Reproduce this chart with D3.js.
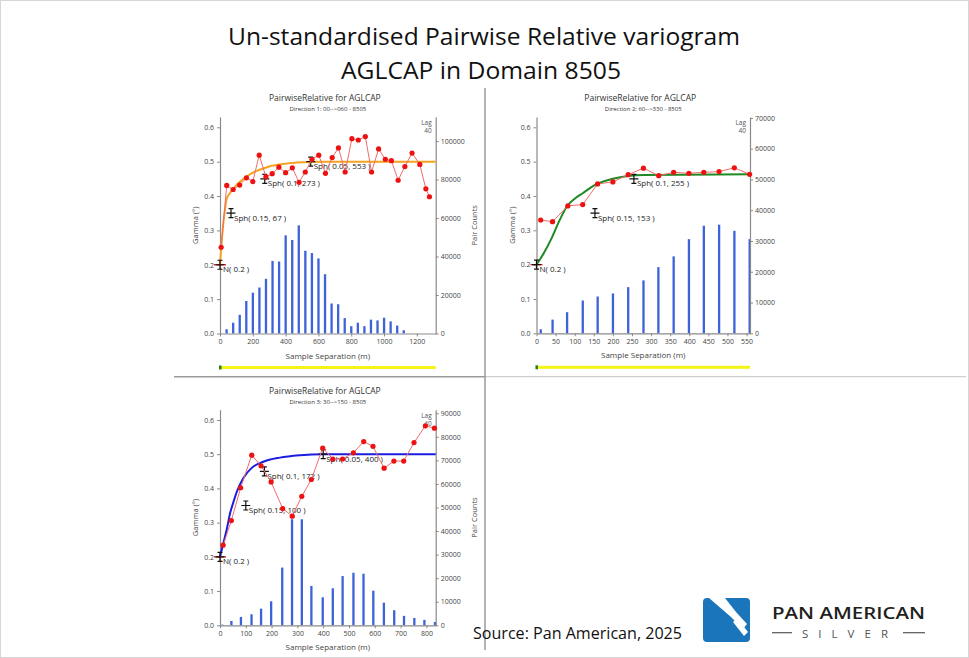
<!DOCTYPE html>
<html>
<head>
<meta charset="utf-8">
<script src="https://cdn.jsdelivr.net/npm/d3@7"></script>
<style>
body{margin:0;background:#fff;}
svg{display:block;}
</style>
</head>
<body>
<div id="chart"></div>
<script>
// ---- values ----
const gammaTicks=[0,0.1,0.2,0.3,0.4,0.5,0.6];

// Direction 1
const lag1=[7,41,80,120,161,200,239,280,318,359,400,441,482,520,561,602,643,684,722,763,804,843,886,924,967,1008,1045,1086,1127,1171,1218,1255,1277];
const gamma1=[0.251,0.431,0.419,0.432,0.453,0.442,0.519,0.456,0.465,0.484,0.468,0.482,0.440,0.470,0.507,0.519,0.466,0.512,0.540,0.470,0.567,0.563,0.573,0.470,0.537,0.507,0.503,0.446,0.486,0.525,0.492,0.421,0.398];
const barLag1=[40,80,120,160,200,240,280,320,360,400,440,480,520,560,600,640,680,720,760,800,840,880,920,960,1000,1040,1080,1120];
const counts1=[2200,5600,9700,16900,21200,23900,28400,37700,37400,51000,48600,56200,43000,41800,39000,30800,15600,15200,8000,3800,5600,3800,7200,6800,8200,6300,4100,1700];
const modelX1=[0,10,20,30,40,60,80,100,150,200,250,300,400,500,600,1315];
const modelY1=[0.2,0.265,0.32,0.36,0.39,0.408,0.42,0.432,0.452,0.468,0.478,0.486,0.494,0.498,0.5,0.5];
const structRange1=[0,67,273,553];
const structGamma1=[0.2,0.35,0.45,0.5];
const structLabel1=["N( 0.2 )","Sph( 0.15, 67 )","Sph( 0.1, 273 )","Sph( 0.05, 553 )"];
const xTicks1=[0,200,400,600,800,1000,1200];
const countTicks1=[0,20000,40000,60000,80000,100000];

// Direction 2
const lag2=[11,42,82,121,160,200,240,280,320,359,399,438,478,518,558];
const gamma2=[0.330,0.325,0.371,0.375,0.435,0.441,0.462,0.481,0.459,0.469,0.466,0.469,0.471,0.482,0.463];
const barLag2=[11,42,80,121,160,200,240,280,319,359,399,438,478,518,558];
const counts2=[1300,4450,6850,10650,11950,12950,15000,17200,21500,25000,30600,34950,35300,33300,30600];
const modelX2=[0,20,40,60,80,100,121,150,175,200,240,280,559];
const modelY2=[0.2,0.235,0.278,0.328,0.37,0.392,0.408,0.43,0.442,0.45,0.458,0.461,0.463];
const structRange2=[0,153,255];
const structGamma2=[0.2,0.35,0.45];
const structLabel2=["N( 0.2 )","Sph( 0.15, 153 )","Sph( 0.1, 255 )"];
const xTicks2=[0,50,100,150,200,250,300,350,400,450,500,550];
const countTicks2=[0,10000,20000,30000,40000,50000,60000,70000];

// Direction 3
const lag3=[12,44,80,123,159,198,243,280,317,354,398,437,475,517,557,593,636,674,712,752,796,831];
const gamma3=[0.234,0.306,0.402,0.497,0.466,0.419,0.341,0.319,0.377,0.426,0.518,0.486,0.486,0.504,0.537,0.523,0.459,0.480,0.480,0.534,0.583,0.576];
const barLag3=[9,44,81,122,159,198,241,279,317,354,398,437,475,517,556,594,635,675,713,753,792,833];
const counts3=[280,1840,3540,4670,7070,10200,24500,45000,45000,16700,11900,15700,20900,22300,21900,14700,9600,6400,4000,3100,2300,1400];
const modelX3=[0,13,26,40,52,65,90,123,168,232,310,400,836];
const modelY3=[0.2,0.24,0.28,0.33,0.36,0.39,0.43,0.46,0.478,0.49,0.497,0.5,0.5];
const structRange3=[0,100,172,400];
const structGamma3=[0.2,0.35,0.45,0.5];
const structLabel3=["N( 0.2 )","Sph( 0.15, 100 )","Sph( 0.1, 172 )","Sph( 0.05, 400 )"];
const xTicks3=[0,100,200,300,400,500,600,700,800];
const countTicks3=[0,10000,20000,30000,40000,50000,60000,70000,80000,90000];

const width=969, height=658;
const font="'Open Sans', 'DejaVu Sans', sans-serif";
const slideFont="'Open Sans', 'Noto Sans', sans-serif";

const svg=d3.select("#chart").append("svg")
    .attr("width", width)
    .attr("height", height);

svg.append("rect")
    .attr("x", 0.5).attr("y", 0.5)
    .attr("width", width-1).attr("height", height-1)
    .attr("fill", "#fff")
    .attr("stroke", "#d6d6d6");

// main title
svg.append("text")
    .attr("x", 484).attr("y", 45)
    .attr("text-anchor", "middle")
    .attr("font-family", slideFont)
    .attr("font-weight", 400)
    .attr("font-size", 23)
    .attr("fill", "#111")
    .attr("textLength", 512)
    .attr("lengthAdjust", "spacingAndGlyphs")
    .text("Un-standardised Pairwise Relative variogram");
svg.append("text")
    .attr("x", 481).attr("y", 79)
    .attr("text-anchor", "middle")
    .attr("font-family", slideFont)
    .attr("font-weight", 400)
    .attr("font-size", 23)
    .attr("fill", "#111")
    .attr("textLength", 280)
    .attr("lengthAdjust", "spacingAndGlyphs")
    .text("AGLCAP in Domain 8505");

// panel dividers
svg.append("line").attr("x1", 174).attr("x2", 485).attr("y1", 376.7).attr("y2", 376.7)
    .attr("stroke", "#9a9a9a").attr("stroke-width", 1.5);
svg.append("line").attr("x1", 485).attr("x2", 966).attr("y1", 376.7).attr("y2", 376.7)
    .attr("stroke", "#cfcfcf").attr("stroke-width", 1.2);
svg.append("line").attr("x1", 485).attr("x2", 485).attr("y1", 88).attr("y2", 650)
    .attr("stroke", "#9a9a9a").attr("stroke-width", 1.5);

function styleAxis (sel) {
    sel.select(".domain").attr("stroke", "#8a8a8a").attr("stroke-width", 1.2);
    sel.selectAll(".tick line").attr("stroke", "#8a8a8a");
    sel.selectAll(".tick text")
        .attr("fill", "#444")
        .attr("font-size", 7)
        .attr("font-family", font);
}

function drawPanel (p) {
    const x=d3.scaleLinear().domain([0, p.xMax]).range([p.left, p.right]);
    const y=d3.scaleLinear().domain([0, 0.63]).range([p.bottom, p.top]);
    const yc=d3.scaleLinear().domain([0, p.cMax]).range([p.bottom, p.top]);
    const g=svg.append("g");
    const cx=(p.left+p.right)/2;

    g.append("text")
        .attr("x", cx-3).attr("y", p.top-16)
        .attr("text-anchor", "middle")
        .attr("font-family", font).attr("font-size", 8.5).attr("fill", "#333")
        .text("PairwiseRelative for AGLCAP");
    g.append("text")
        .attr("x", cx).attr("y", p.top-6)
        .attr("text-anchor", "middle")
        .attr("font-family", font).attr("font-size", 6).attr("fill", "#333")
        .text(p.subtitle);

    // pair count bars
    g.selectAll(".bar")
        .data(p.counts)
        .enter().append("rect")
        .attr("class", "bar")
        .attr("x", (d, i) => x(p.barLag[i])-1.1)
        .attr("y", d => yc(d))
        .attr("width", 2.3)
        .attr("height", d => p.bottom-yc(d))
        .attr("fill", "#3d63d8");

    // axes
    g.append("g")
        .attr("transform", `translate(${p.left},0)`)
        .call(d3.axisLeft(y).tickValues(gammaTicks).tickFormat(d3.format(".1f")).tickSize(3).tickSizeOuter(0))
        .call(styleAxis);
    g.append("g")
        .attr("transform", `translate(${p.right},0)`)
        .call(d3.axisRight(yc).tickValues(p.countTicks).tickFormat(d3.format("d")).tickSize(3).tickPadding(2).tickSizeOuter(0))
        .call(styleAxis);
    g.append("g")
        .attr("transform", `translate(0,${p.bottom})`)
        .call(d3.axisBottom(x).tickValues(p.xTicks).tickFormat(d3.format("d")).tickSize(3).tickSizeOuter(0))
        .call(styleAxis);

    g.append("text")
        .attr("transform", `translate(${p.left-22},${(p.top+p.bottom)/2}) rotate(-90)`)
        .attr("text-anchor", "middle")
        .attr("font-family", font).attr("font-size", 7.5).attr("fill", "#444")
        .text("Gamma (°)");
    if (p.pairLabel) {
        g.append("text")
            .attr("transform", `translate(${p.right+41},${(p.top+p.bottom)/2}) rotate(-90)`)
            .attr("text-anchor", "middle")
            .attr("font-family", font).attr("font-size", 7.5).attr("fill", "#444")
            .text("Pair Counts");
    }
    g.append("text")
        .attr("x", cx).attr("y", p.bottom+25)
        .attr("text-anchor", "middle")
        .attr("font-family", font).attr("font-size", 8).attr("fill", "#444")
        .text("Sample Separation (m)");

    g.append("text")
        .attr("x", p.right-4).attr("y", p.top+8)
        .attr("text-anchor", "end")
        .attr("font-family", font).attr("font-size", 6.5).attr("fill", "#555")
        .text("Lag");
    g.append("text")
        .attr("x", p.right-4).attr("y", p.top+16)
        .attr("text-anchor", "end")
        .attr("font-family", font).attr("font-size", 6.5).attr("fill", "#555")
        .text("40");

    // model curve
    const model=p.modelX.map((v, i) => [v, p.modelY[i]]);
    g.append("path")
        .attr("d", d3.line().x(d => x(d[0])).y(d => y(d[1])).curve(d3.curveMonotoneX)(model))
        .attr("fill", "none")
        .attr("stroke", p.modelColor)
        .attr("stroke-width", 2);

    // structure markers
    const marks=g.selectAll(".mark")
        .data(p.structRange)
        .enter().append("g")
        .attr("class", "mark")
        .attr("transform", (d, i) => `translate(${x(d)},${y(p.structGamma[i])})`);
    marks.filter((d, i) => i===0).append("line")
        .attr("x1", -6).attr("x2", 6).attr("y1", 0).attr("y2", 0)
        .attr("stroke", "#e31a1c").attr("stroke-width", 1.3);
    marks.append("path")
        .attr("d", "M0,-4.5V4.5M-4.5,0H4.5M-2.5,-4.5H2.5M-2.5,4.5H2.5")
        .attr("stroke", "#111").attr("stroke-width", 1.2).attr("fill", "none");
    marks.append("text")
        .attr("x", 3).attr("y", 7.5)
        .attr("font-family", font).attr("font-size", 8).attr("fill", "#222")
        .text((d, i) => p.structLabel[i]);

    // experimental points
    const pts=p.lag.map((v, i) => [v, p.gamma[i]]);
    g.append("path")
        .attr("d", d3.line().x(d => x(d[0])).y(d => y(d[1]))(pts))
        .attr("fill", "none")
        .attr("stroke", "#f26b6b")
        .attr("stroke-width", 1);
    g.selectAll(".pt")
        .data(pts)
        .enter().append("circle")
        .attr("class", "pt")
        .attr("cx", d => x(d[0]))
        .attr("cy", d => y(d[1]))
        .attr("r", 2.6)
        .attr("fill", "#ee1111");

    if (p.lagBar) {
        g.append("rect")
            .attr("x", p.left-1).attr("y", p.bottom+32.5)
            .attr("width", p.right-p.left+1).attr("height", 3)
            .attr("fill", "#f4f416");
        g.append("rect")
            .attr("x", p.left-1).attr("y", p.bottom+32)
            .attr("width", 2.5).attr("height", 4)
            .attr("fill", "#2d7a2d");
    }
}

drawPanel({
    left: 220, right: 435.7, top: 117, bottom: 333.5,
    xMax: 1315, cMax: 112500,
    subtitle: "Direction 1: 00-->060 - 8505",
    lag: lag1, gamma: gamma1, barLag: barLag1, counts: counts1,
    modelX: modelX1, modelY: modelY1, modelColor: "#f5a31e",
    structRange: structRange1, structGamma: structGamma1, structLabel: structLabel1,
    xTicks: xTicks1, countTicks: countTicks1,
    pairLabel: true, lagBar: true
});
drawPanel({
    left: 536.5, right: 750, top: 117, bottom: 333.3,
    xMax: 559, cMax: 70300,
    subtitle: "Direction 2: 60-->330 - 8505",
    lag: lag2, gamma: gamma2, barLag: barLag2, counts: counts2,
    modelX: modelX2, modelY: modelY2, modelColor: "#1f8a24",
    structRange: structRange2, structGamma: structGamma2, structLabel: structLabel2,
    xTicks: xTicks2, countTicks: countTicks2,
    pairLabel: false, lagBar: true
});
drawPanel({
    left: 220, right: 435.7, top: 409.7, bottom: 625.3,
    xMax: 836, cMax: 91500,
    subtitle: "Direction 3: 30-->150 - 8505",
    lag: lag3, gamma: gamma3, barLag: barLag3, counts: counts3,
    modelX: modelX3, modelY: modelY3, modelColor: "#1c1ce0",
    structRange: structRange3, structGamma: structGamma3, structLabel: structLabel3,
    xTicks: xTicks3, countTicks: countTicks3,
    pairLabel: true, lagBar: false
});

// source note
svg.append("text")
    .attr("x", 473).attr("y", 639)
    .attr("font-family", slideFont)
    .attr("font-size", 16)
    .attr("fill", "#111")
    .attr("textLength", 209)
    .attr("lengthAdjust", "spacingAndGlyphs")
    .text("Source: Pan American, 2025");

// logo
const logo=svg.append("g").attr("transform", "translate(703,598)");
logo.append("rect")
    .attr("width", 47).attr("height", 44).attr("rx", 4)
    .attr("fill", "#1b75bb");
logo.append("path")
    .attr("d", "M6,0H22L33,14L44,26L40,31L28,19Z")
    .attr("fill", "#fff");
logo.append("path")
    .attr("d", "M30,24L34,20L45,34L41,38Z")
    .attr("fill", "#fff");
svg.append("text")
    .attr("x", 772).attr("y", 619)
    .attr("font-family", "'Open Sans', sans-serif")
    .attr("font-weight", 600)
    .attr("font-size", 16.5)
    .attr("fill", "#231f20")
    .attr("textLength", 153)
    .attr("lengthAdjust", "spacingAndGlyphs")
    .text("PAN AMERICAN");
svg.append("text")
    .attr("x", 802).attr("y", 637.5)
    .attr("font-family", "'Open Sans', sans-serif")
    .attr("font-size", 11.5)
    .attr("fill", "#555")
    .attr("textLength", 86)
    .attr("lengthAdjust", "spacing")
    .text("SILVER");
svg.append("line").attr("x1", 772).attr("x2", 792).attr("y1", 632.7).attr("y2", 632.7)
    .attr("stroke", "#555").attr("stroke-width", 1.2);
svg.append("line").attr("x1", 903).attr("x2", 925).attr("y1", 632.7).attr("y2", 632.7)
    .attr("stroke", "#555").attr("stroke-width", 1.2);
</script>
</body>
</html>
